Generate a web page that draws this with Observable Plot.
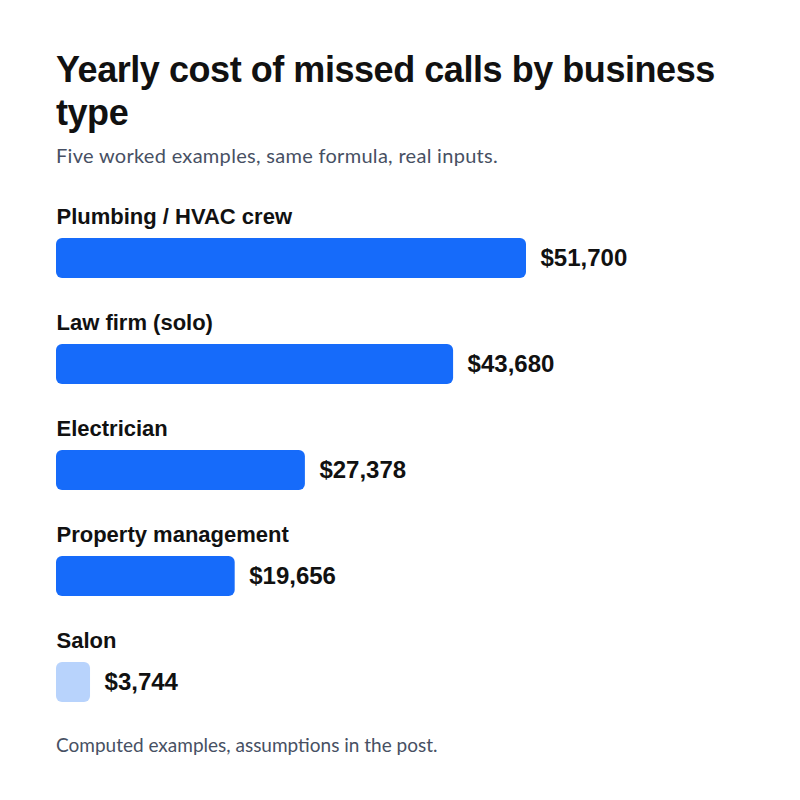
<!DOCTYPE html>
<html>
<head>
<meta charset="utf-8">
<script src="https://cdn.jsdelivr.net/npm/d3@7"></script>
<script src="https://cdn.jsdelivr.net/npm/@observablehq/plot@0.6"></script>
<style>
  html, body { margin: 0; padding: 0; background: #fff; }
  #wrap { position: relative; width: 800px; height: 800px; }
  h1 { position: absolute; left: 56px; top: 48px; width: 700px; margin: 0;
       font-family: "Liberation Sans", Arial, sans-serif; font-weight: 700; font-size: 36px;
       line-height: 43px; color: #111; letter-spacing: -0.45px; }
  .sub { position: absolute; left: 56px; top: 143px; margin: 0; font-family: Lato, sans-serif;
         font-size: 20px; line-height: 24px; color: #475063; letter-spacing: 0.3px; }
  #chart { position: absolute; left: 0; top: 178px; }
  .cap { position: absolute; left: 56px; top: 734px; margin: 0; font-family: Lato, sans-serif;
         font-size: 19px; line-height: 22.8px; color: #475063; }
</style>
</head>
<body>
<div id="wrap">
  <h1>Yearly cost of missed calls by business type</h1>
  <p class="sub">Five worked examples, same formula, real inputs.</p>
  <div id="chart"></div>
  <p class="cap">Computed examples, assumptions in the post.</p>
</div>
<script>
const categories = ["Plumbing / HVAC crew", "Law firm (solo)", "Electrician", "Property management", "Salon"];
const values = [51700, 43680, 27378, 19656, 3744];
const highlight = [true, true, true, true, false];

const data = categories.map((c, i) => ({category: c, value: values[i], hi: highlight[i]}));
const fmt = d3.format("$,");

const chart = Plot.plot({
  width: 800,
  height: 534,
  marginLeft: 56,
  marginRight: 274,
  marginTop: 58,
  marginBottom: 8,
  x: {domain: [0, 51700], axis: null},
  y: {domain: categories, axis: null, paddingInner: 0.626, paddingOuter: 0},
  style: {fontFamily: "'Liberation Sans', Arial, sans-serif"},
  marks: [
    Plot.barX(data, {
      y: "category", x: "value",
      fill: d => d.hi ? "#166bfa" : "#b8d3fc",
      rx: 6
    }),
    Plot.text(data, {
      y: "category", x: 0, text: "category",
      textAnchor: "start", dy: -42,
      fontSize: 22, fontWeight: 700, fill: "#111"
    }),
    Plot.text(data, {
      y: "category", x: "value", text: d => fmt(d.value),
      textAnchor: "start", dx: 14,
      fontSize: 24, fontWeight: 700, fill: "#111"
    })
  ]
});
document.getElementById("chart").appendChild(chart);
</script>
</body>
</html>
